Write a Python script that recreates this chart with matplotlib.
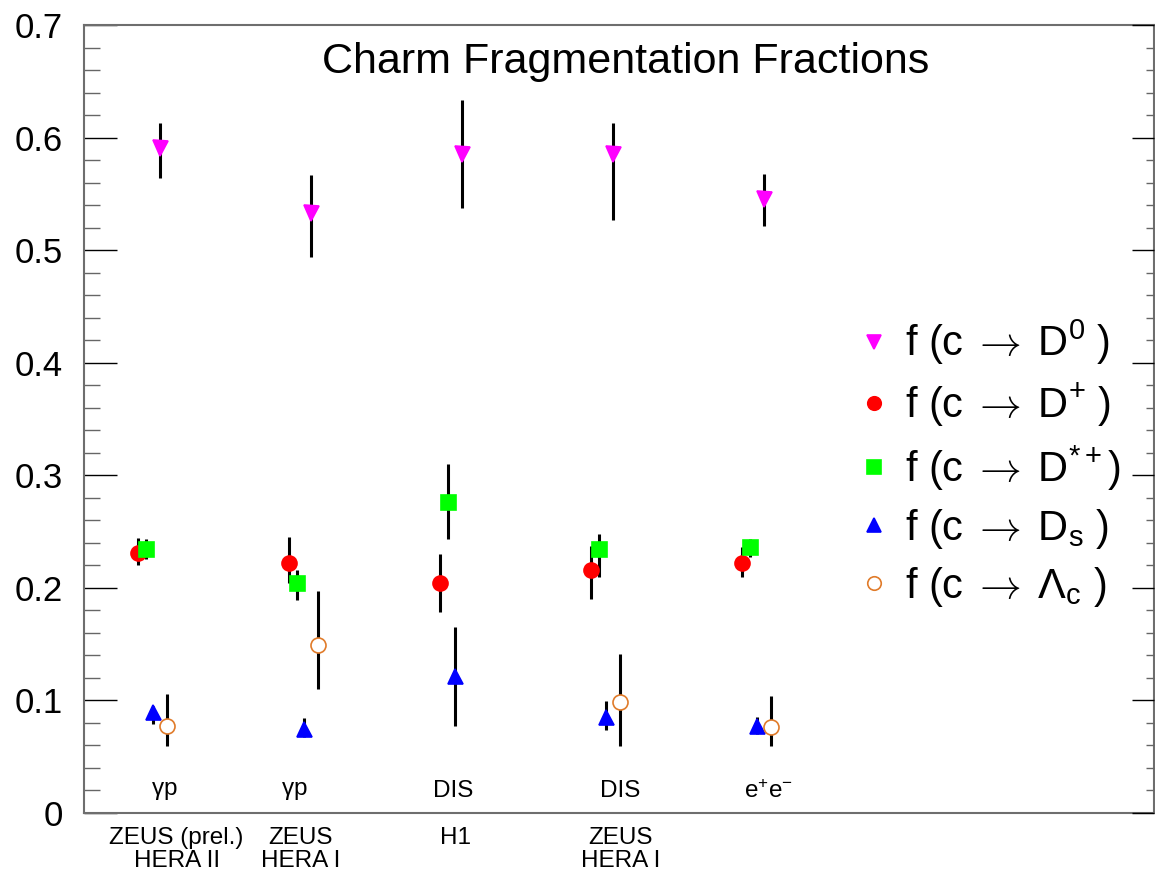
import numpy as np
import matplotlib.pyplot as plt

plt.rcParams['font.family'] = ['Liberation Sans', 'DejaVu Sans']
plt.rcParams['mathtext.fontset'] = 'custom'
plt.rcParams['mathtext.rm'] = 'Liberation Sans'
plt.rcParams['mathtext.it'] = 'Liberation Sans'
plt.rcParams['mathtext.bf'] = 'Liberation Sans:bold'
# cmr10 has no arrow glyph, so the arrow falls back to the TeX (cm) one
plt.rcParams['mathtext.sf'] = 'cmr10'
plt.rcParams['mathtext.fallback'] = 'cm'

# measurements (one entry per experiment group)
experiments = ['ZEUS (prel.)\nHERA II', 'ZEUS\nHERA I', 'H1', 'ZEUS\nHERA I']
processes = [r'$\gamma$p', r'$\gamma$p', 'DIS', 'DIS', r'e$^{+}$e$^{-}$']

d0 = [0.591, 0.533, 0.585, 0.585, 0.545]
d0_hi = [0.613, 0.567, 0.633, 0.613, 0.568]
d0_lo = [0.564, 0.494, 0.537, 0.527, 0.521]

dplus = [0.231, 0.222, 0.204, 0.216, 0.222]
dplus_hi = [0.244, 0.245, 0.230, 0.237, 0.236]
dplus_lo = [0.220, 0.204, 0.178, 0.190, 0.209]

dstar = [0.234, 0.204, 0.276, 0.234, 0.236]
dstar_hi = [0.243, 0.216, 0.310, 0.248, 0.243]
dstar_lo = [0.225, 0.189, 0.243, 0.209, 0.227]

ds = [0.089, 0.074, 0.121, 0.085, 0.077]
ds_hi = [0.095, 0.084, 0.165, 0.099, 0.085]
ds_lo = [0.079, 0.067, 0.077, 0.073, 0.070]

lc = [0.077, 0.149, np.nan, 0.098, 0.076]
lc_hi = [0.105, 0.197, np.nan, 0.141, 0.104]
lc_lo = [0.059, 0.110, np.nan, 0.059, 0.059]

# layout: group centres, horizontal shift of each species inside a group
group_x = np.arange(1, 6)
exp_label_x = [1.11, 1.93, 2.96, 4.05]
proc_label_x = [1.03, 1.89, 2.94, 4.05, 5.03]

arrow = r'$\;\mathsf{\rightarrow}\;$'
series = [
    (d0, d0_lo, d0_hi, 0.0, 'v', '#ff00ff', '#ff00ff', 'f (c' + arrow + r'D$^{0}$ )'),
    (dplus, dplus_lo, dplus_hi, -0.143, 'o', '#ff0000', '#ff0000', 'f (c' + arrow + r'D$^{+}$ )'),
    (dstar, dstar_lo, dstar_hi, -0.093, 's', '#00ff00', '#00ff00', 'f (c' + arrow + r'D$^{*+}$)'),
    (ds, ds_lo, ds_hi, -0.046, '^', '#0000ff', '#0000ff', 'f (c' + arrow + r'D$_{s}$ )'),
    (lc, lc_lo, lc_hi, 0.046, 'o', 'white', '#e07b2a', 'f (c' + arrow + r'$\Lambda_{c}$ )'),
]

fig = plt.figure(figsize=(11.55, 8.73), dpi=100)
ax = fig.add_axes([0.0727, 0.0693, 0.9264, 0.902])

handles = []
labels = []
for vals, lo, hi, shift, marker, face, edge, label in series:
    vals = np.array(vals)
    err = [vals - np.array(lo), np.array(hi) - vals]
    cont = ax.errorbar(group_x + shift, vals, yerr=err, fmt=marker, ms=10.8,
                       mfc=face, mec=edge, mew=1.2, ecolor='black',
                       elinewidth=2.2, capsize=0)
    handles.append(cont[0])
    labels.append(label)

ax.set_xlim(0.4967, 7.583)
ax.set_ylim(0, 0.7)

ax.set_xticks([])
ax.set_yticks(np.arange(0, 0.71, 0.1))
ax.set_yticks(np.arange(0, 0.7, 0.02), minor=True)
ax.set_yticklabels(['0', '0.1', '0.2', '0.3', '0.4', '0.5', '0.6', '0.7'])
ax.tick_params(axis='y', which='major', direction='in', length=23.8, width=1.0,
               color='black', labelsize=25, pad=15, right=False)
ax.tick_params(axis='y', which='minor', direction='in', length=11.5, width=1.0,
               color='#666666', right=False)

for side in ['left', 'right', 'top', 'bottom']:
    ax.spines[side].set_color('#6e6e6e')
    ax.spines[side].set_linewidth(1.5)

# shorter ticks on the right side
ax2 = ax.twinx()
ax2.set_ylim(ax.get_ylim())
ax2.set_yticks(np.arange(0, 0.71, 0.1))
ax2.set_yticks(np.arange(0, 0.7, 0.02), minor=True)
ax2.set_yticklabels([])
ax2.tick_params(axis='y', which='major', direction='in', length=15.8, width=1.0, color='black')
ax2.tick_params(axis='y', which='minor', direction='in', length=6, width=1.0, color='#666666')
for side in ['left', 'right', 'top', 'bottom']:
    ax2.spines[side].set_visible(False)

ax.text(0.506, 0.953, 'Charm Fragmentation Fractions', transform=ax.transAxes,
        ha='center', va='center', fontsize=31)

for x, txt in zip(proc_label_x, processes):
    ax.text(x, 0.019, txt, ha='center', va='center', fontsize=17.5)

for x, txt in zip(exp_label_x, experiments):
    ax.text(x, -0.0125, txt, ha='center', va='top', fontsize=17.5, linespacing=1.1)

ax.legend(handles, labels, loc='upper left', bbox_to_anchor=(0.742, 0.636),
          bbox_transform=fig.transFigure, frameon=False, fontsize=30,
          handlelength=0.8, handletextpad=0.35, labelspacing=0.34,
          borderpad=0, borderaxespad=0, markerscale=0.9)

plt.savefig('out.png', dpi=100)
plt.close()
